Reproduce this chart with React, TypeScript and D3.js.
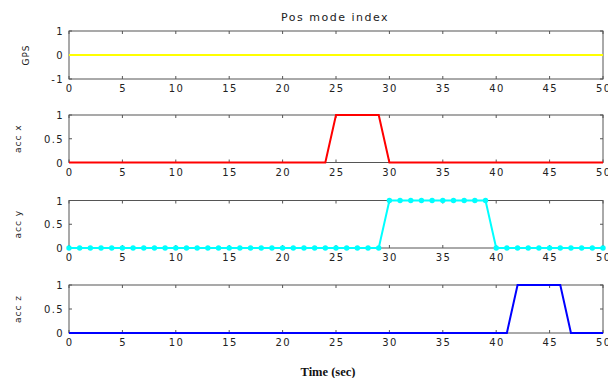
import React from "react";
import * as d3 from "d3";

// Time samples (sec) and mode flags for each sensor
const time: number[] = Array.from({ length: 51 }, (_, i) => i);
const gpsMode: number[] = time.map(() => 0);
const accXOn: number[] = [25, 26, 27, 28, 29];
const accYOn: number[] = [30, 31, 32, 33, 34, 35, 36, 37, 38, 39];
const accZOn: number[] = [42, 43, 44, 45, 46];
const accX: number[] = time.map((t) => (accXOn.includes(t) ? 1 : 0));
const accY: number[] = time.map((t) => (accYOn.includes(t) ? 1 : 0));
const accZ: number[] = time.map((t) => (accZOn.includes(t) ? 1 : 0));

const xTicks: number[] = [0, 5, 10, 15, 20, 25, 30, 35, 40, 45, 50];
const gpsTicks: number[] = [-1, 0, 1];
const accTicks: number[] = [0, 0.5, 1];

const W = 608;
const H = 378;
const left = 69;
const right = 603;

type Panel = {
  label: string;
  values: number[];
  color: string;
  domain: [number, number];
  ticks: number[];
  top: number;
  bottom: number;
  labelX: number;
  dots?: boolean;
};

const panels: Panel[] = [
  { label: "GPS", values: gpsMode, color: "#ffff00", domain: [-1, 1], ticks: gpsTicks, top: 31, bottom: 79, labelX: 29 },
  { label: "acc x", values: accX, color: "#ff0000", domain: [0, 1], ticks: accTicks, top: 115, bottom: 162.5, labelX: 21 },
  { label: "acc y", values: accY, color: "#00ffff", domain: [0, 1], ticks: accTicks, top: 200.5, bottom: 248, labelX: 21, dots: true },
  { label: "acc z", values: accZ, color: "#0000ff", domain: [0, 1], ticks: accTicks, top: 285, bottom: 333, labelX: 21 },
];

const font = "DejaVu Sans, Verdana, sans-serif";
const axisColor = "#555";
const textColor = "#222";

function PanelView({ p }: { p: Panel }) {
  const x = d3.scaleLinear().domain([0, 50]).range([left, right]);
  const y = d3.scaleLinear().domain(p.domain).range([p.bottom, p.top]);
  const line = d3
    .line<number>()
    .x((_, i) => x(time[i]))
    .y((v) => y(v));
  const tl = 3;
  return (
    <g>
      <rect x={left} y={p.top} width={right - left} height={p.bottom - p.top} fill="white" stroke={axisColor} strokeWidth={1} />
      {xTicks.map((t) => (
        <g key={"x" + t}>
          <line x1={x(t)} x2={x(t)} y1={p.bottom} y2={p.bottom - tl} stroke={axisColor} />
          <line x1={x(t)} x2={x(t)} y1={p.top} y2={p.top + tl} stroke={axisColor} />
          <text x={x(t) + 0.7} y={p.bottom + 13} textAnchor="middle" fontSize={10} letterSpacing={1.4} fontFamily={font} fill={textColor}>
            {t}
          </text>
        </g>
      ))}
      {p.ticks.map((t) => (
        <g key={"y" + t}>
          <line x1={left} x2={left + tl} y1={y(t)} y2={y(t)} stroke={axisColor} />
          <line x1={right} x2={right - tl} y1={y(t)} y2={y(t)} stroke={axisColor} />
          <text x={left - 5} y={y(t) + 4} textAnchor="end" fontSize={10} letterSpacing={1.4} fontFamily={font} fill={textColor}>
            {t}
          </text>
        </g>
      ))}
      <path d={line(p.values) || ""} fill="none" stroke={p.color} strokeWidth={2} />
      {p.dots &&
        p.values.map((v, i) => <circle key={i} cx={x(time[i])} cy={y(v)} r={2.7} fill={p.color} />)}
      <text
        transform={`translate(${p.labelX},${(p.top + p.bottom) / 2}) rotate(-90)`}
        textAnchor="middle"
        fontSize={9}
        letterSpacing={1}
        fontFamily={font}
        fill={textColor}
      >
        {p.label}
      </text>
    </g>
  );
}

export default function App() {
  return (
    <svg width={W} height={H} style={{ position: "absolute", left: 0, top: 0, background: "white" }}>
      <rect width={W} height={H} fill="white" />
      <text x={335} y={21} textAnchor="middle" fontSize={11} letterSpacing={1.5} fontFamily={font} fill={textColor}>
        Pos mode index
      </text>
      {panels.map((p) => (
        <PanelView key={p.label} p={p} />
      ))}
      <text x={328} y={376} textAnchor="middle" fontSize={12.5} fontWeight="bold" fontFamily="Liberation Serif, Times New Roman, serif" fill="#111">
        Time (sec)
      </text>
    </svg>
  );
}
